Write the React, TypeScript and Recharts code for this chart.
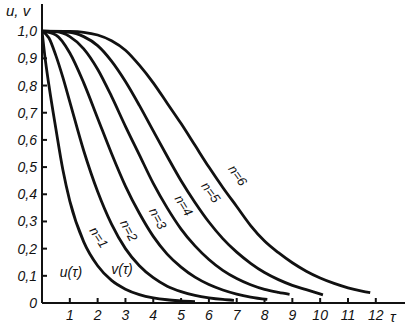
import { LineChart, Line, XAxis, YAxis } from 'recharts'

// tau values and readings of each curve u, v
const tau1 = [0, 0.1, 0.25, 0.5, 0.75, 1, 1.5, 2, 2.5, 3, 3.5, 4, 4.5, 5, 5.5]
const val1 = [1, 0.91, 0.8, 0.64, 0.49, 0.375, 0.225, 0.137, 0.083, 0.051, 0.031, 0.019, 0.012, 0.008, 0.005]

const tau2 = [0, 0.25, 0.5, 0.75, 1, 1.5, 2, 2.5, 3, 3.5, 4, 4.5, 5, 5.5, 6, 6.5, 6.9]
const val2 = [1, 0.975, 0.91, 0.83, 0.74, 0.56, 0.41, 0.29, 0.2, 0.137, 0.093, 0.062, 0.042, 0.028, 0.019, 0.013, 0.01]

const tau3 = [0, 0.5, 1, 1.5, 2, 2.5, 3, 3.5, 4, 4.5, 5, 5.5, 6, 6.5, 7, 7.5, 8.1]
const val3 = [1, 0.986, 0.92, 0.81, 0.68, 0.55, 0.43, 0.33, 0.245, 0.18, 0.132, 0.095, 0.068, 0.048, 0.033, 0.022, 0.013]

const tau4 = [0, 0.5, 1, 1.5, 2, 2.5, 3, 3.5, 4, 4.5, 5, 5.5, 6, 6.5, 7, 7.5, 8, 8.5, 8.9]
const val4 = [1, 0.998, 0.98, 0.935, 0.86, 0.76, 0.65, 0.545, 0.44, 0.35, 0.272, 0.21, 0.16, 0.12, 0.09, 0.067, 0.05, 0.039, 0.032]

const tau5 = [0, 1, 1.5, 2, 2.5, 3, 3.5, 4, 4.5, 5, 5.5, 6, 6.5, 7, 7.5, 8, 8.5, 9, 9.5, 10.1]
const val5 = [1, 0.996, 0.98, 0.947, 0.89, 0.815, 0.727, 0.633, 0.54, 0.45, 0.37, 0.298, 0.237, 0.187, 0.146, 0.112, 0.086, 0.065, 0.049, 0.03]

const tau6 = [0, 1, 1.5, 2, 2.5, 3, 3.5, 4, 4.5, 5, 5.5, 6, 6.5, 7, 7.5, 8, 8.5, 9, 9.5, 10, 10.5, 11, 11.5, 11.8]
const val6 = [1, 0.999, 0.996, 0.986, 0.965, 0.93, 0.875, 0.81, 0.735, 0.66, 0.58, 0.5, 0.425, 0.355, 0.285, 0.228, 0.185, 0.148, 0.117, 0.092, 0.072, 0.056, 0.044, 0.038]

const xTicks = [1, 2, 3, 4, 5, 6, 7, 8, 9, 10, 11, 12]
const yTicks = [0, 0.1, 0.2, 0.3, 0.4, 0.5, 0.6, 0.7, 0.8, 0.9, 1.0]

const curves = [
  { name: 'n=1', tau: tau1, val: val1 },
  { name: 'n=2', tau: tau2, val: val2 },
  { name: 'n=3', tau: tau3, val: val3 },
  { name: 'n=4', tau: tau4, val: val4 },
  { name: 'n=5', tau: tau5, val: val5 },
  { name: 'n=6', tau: tau6, val: val6 },
]

const ink = '#111'
const font = '"Liberation Sans", "DejaVu Sans", sans-serif'
const tickStyle = { fill: ink, fontSize: 14, fontStyle: 'italic', fontFamily: font }

// curve labels, placed just right of the curves
const curveLabels = [
  { text: 'n=1', x: 98, y: 238, rot: 57 },
  { text: 'n=2', x: 128, y: 231, rot: 62 },
  { text: 'n=3', x: 157, y: 219, rot: 62 },
  { text: 'n=4', x: 183, y: 206, rot: 58 },
  { text: 'n=5', x: 210, y: 193, rot: 54 },
  { text: 'n=6', x: 237, y: 176, rot: 55 },
]

export default function App() {
  return (
    <div style={{ position: 'absolute', left: 0, top: 0, width: 409, height: 328, background: '#fff' }}>
      <LineChart width={409} height={328} margin={{ top: 4, right: 4, left: 0, bottom: 0 }}>
        <XAxis
          dataKey="t"
          type="number"
          domain={[0, 13.05]}
          ticks={xTicks}
          allowDataOverflow
          height={25}
          stroke={ink}
          strokeWidth={2}
          tickSize={-5}
          tickMargin={12}
          tick={tickStyle}
        />
        <YAxis
          dataKey="v"
          type="number"
          domain={[0, 1.1]}
          ticks={yTicks}
          allowDataOverflow
          width={42}
          stroke={ink}
          strokeWidth={2}
          tickSize={-5}
          tickMargin={10}
          tick={tickStyle}
          tickFormatter={(v: number) => (v === 0 ? '0' : v.toFixed(1).replace('.', ','))}
        />
        {curves.map((c) => (
          <Line
            key={c.name}
            data={c.tau.map((t, i) => ({ t, v: c.val[i] }))}
            dataKey="v"
            type="monotone"
            stroke={ink}
            strokeWidth={2.8}
            dot={false}
            isAnimationActive={false}
          />
        ))}
      </LineChart>
      <svg width={409} height={328} style={{ position: 'absolute', left: 0, top: 0, pointerEvents: 'none' }}>
        <g fill={ink} fontFamily={font} fontStyle="italic">
          <text x={6} y={16} fontSize={15}>u, v</text>
          <text x={390} y={322} fontSize={15}>τ</text>
          <text x={71} y={277} fontSize={14} textAnchor="middle">u(τ)</text>
          <text x={122} y={274} fontSize={14} textAnchor="middle">v(τ)</text>
          {curveLabels.map((l) => (
            <text
              key={l.text}
              x={l.x}
              y={l.y}
              fontSize={13}
              textAnchor="middle"
              dominantBaseline="middle"
              transform={`rotate(${l.rot} ${l.x} ${l.y})`}
            >
              {l.text}
            </text>
          ))}
        </g>
      </svg>
    </div>
  )
}
